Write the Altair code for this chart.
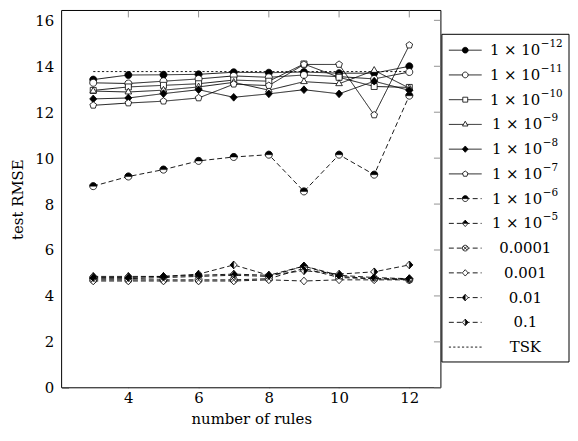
import altair as alt
import pandas as pd

FONT = "DejaVu Serif"
FS = 15

rules = [3, 4, 5, 6, 7, 8, 9, 10, 11, 12]

series_names = ["1e-12", "1e-11", "1e-10", "1e-9", "1e-8", "1e-7",
                "1e-6", "1e-5", "0.0001", "0.001", "0.01", "0.1"]
legend_base = ["1 × 10", "1 × 10", "1 × 10", "1 × 10", "1 × 10", "1 × 10", "1 × 10", "1 × 10",
               "0.0001", "0.001", "0.01", "0.1", "TSK"]
legend_exp = ["−12", "−11", "−10", "−9", "−8", "−7", "−6", "−5", "", "", "", "", ""]

s_1e12 = [13.42, 13.62, 13.63, 13.65, 13.74, 13.72, 13.75, 13.70, 13.70, 14.00]
s_1e11 = [13.28, 13.25, 13.35, 13.45, 13.58, 13.52, 13.62, 13.55, 13.45, 13.75]
s_1e10 = [12.95, 13.10, 13.17, 13.24, 13.40, 13.35, 14.10, 13.52, 13.12, 13.08]
s_1e9 = [12.92, 12.88, 12.96, 13.10, 13.30, 12.96, 13.33, 13.24, 13.82, 13.05]
s_1e8 = [12.58, 12.62, 12.81, 12.98, 12.65, 12.80, 12.98, 12.80, 13.35, 12.95]
s_1e7 = [12.30, 12.40, 12.48, 12.62, 13.22, 13.16, 14.08, 14.08, 11.88, 14.92]
s_1e6 = [8.78, 9.20, 9.50, 9.88, 10.05, 10.15, 8.55, 10.15, 9.28, 12.72]
s_1e5 = [4.75, 4.75, 4.80, 4.85, 4.90, 4.85, 5.30, 4.85, 4.75, 4.75]
s_1e4 = [4.70, 4.70, 4.70, 4.70, 4.70, 4.75, 5.20, 4.80, 4.75, 4.70]
s_1e3 = [4.65, 4.65, 4.65, 4.65, 4.65, 4.70, 4.65, 4.70, 4.70, 4.70]
s_1e2 = [4.80, 4.80, 4.85, 4.95, 5.35, 4.90, 5.30, 4.90, 4.80, 4.75]
s_1e1 = [4.85, 4.85, 4.85, 4.90, 4.95, 4.90, 5.10, 4.95, 5.05, 5.35]
tsk = [13.77, 13.77, 13.77, 13.77, 13.77, 13.77, 13.77, 13.77, 13.77, 13.77]

x_ticks = [4, 6, 8, 10, 12]
y_ticks = [0, 2, 4, 6, 8, 10, 12, 14, 16]

all_series = [s_1e12, s_1e11, s_1e10, s_1e9, s_1e8, s_1e7,
              s_1e6, s_1e5, s_1e4, s_1e3, s_1e2, s_1e1]

rows = []
for name, vals in zip(series_names, all_series):
    for xv, yv in zip(rules, vals):
        rows.append({"series": name, "rules": xv, "rmse": yv})
for xv, yv in zip(rules, tsk):
    rows.append({"series": "TSK", "rules": xv, "rmse": yv})
df = pd.DataFrame(rows)

all_names = series_names + ["TSK"]
leg_df = pd.DataFrame({"series": all_names, "base": legend_base, "exp": legend_exp,
                       "idx": list(range(len(all_names)))})
leg_df["kind"] = ["two" if len(e) == 3 else ("one" if len(e) == 2 else "plain") for e in legend_exp]

xt_df = pd.DataFrame({"t": x_ticks})
yt_df = pd.DataFrame({"t": y_ticks})
box_df = pd.DataFrame({"box": [0]})

# marker paths
CIRCLE = "M-1,0A1,1 0 1,1 1,0A1,1 0 1,1 -1,0Z"
SQUARE = "M-0.85,-0.85L0.85,-0.85L0.85,0.85L-0.85,0.85Z"
TRI = "M0,-1.1L0.95,0.55L-0.95,0.55Z"
DIAMOND = "M0,-1.1L1,0L0,1.1L-1,0Z"
PENTAGON = "M0,-1L0.951,-0.309L0.588,0.809L-0.588,0.809L-0.951,-0.309Z"
HALF_TOP_CIRCLE = "M-1,0A1,1 0 0,1 1,0Z"
HALF_TOP_DIAMOND = "M-1,0L0,-1.1L1,0Z"
HALF_LEFT_DIAMOND = "M0,-1.1L-1,0L0,1.1Z"
HALF_RIGHT_DIAMOND = "M0,-1.1L1,0L0,1.1Z"
OTIMES = "M-0.707,-0.707L0.707,0.707M-0.707,0.707L0.707,-0.707"

base_shapes = [CIRCLE, CIRCLE, SQUARE, TRI, DIAMOND, PENTAGON,
               CIRCLE, DIAMOND, CIRCLE, DIAMOND, DIAMOND, DIAMOND]
base_fills = ["black", "white", "white", "white", "black", "white",
              "white", "white", "white", "white", "white", "white"]
filled_overlays = [("1e-6", HALF_TOP_CIRCLE), ("1e-5", HALF_TOP_DIAMOND),
                   ("0.01", HALF_LEFT_DIAMOND), ("0.1", HALF_RIGHT_DIAMOND)]
line_overlays = [("0.0001", OTIMES)]

dashes = [[1, 0]] * 6 + [[5, 3]] * 6 + [[2.2, 2.2]]
widths = [0.9] * 12 + [2.3]
leg_dashes = [[1, 0]] * 6 + [[5, 5.5]] * 6 + [[2.2, 2.2]]

dash_scale = alt.Scale(domain=all_names, range=dashes)
width_scale = alt.Scale(domain=all_names, range=widths)
shape_scale = alt.Scale(domain=series_names, range=base_shapes)
fill_scale = alt.Scale(domain=series_names, range=base_fills)

XDOM = [2.1, 12.9]
YDOM = [0, 16.43]
W, H = 382, 380
TICK = 7
TICKCOL = "#777777"

# legend layout (pixels relative to plot origin)
LX0 = W + 1           # legend box left
LX1 = W + 129         # legend box right
LY0, LY1 = 24, 354    # legend box top / bottom
ROW0, ROW12 = 40, 339  # first / last legend row centre
LX_MARK = LX0 + 23.5


def xs():
    return alt.Scale(domain=XDOM, nice=False, zero=False)


def ys():
    return alt.Scale(domain=YDOM, nice=False, zero=False)


tick_common = dict(domain=False, grid=False, offset=-TICK, tickSize=TICK,
                   tickColor=TICKCOL, tickWidth=0.8)

X_main = alt.X("rules:Q", scale=xs(),
               axis=alt.Axis(orient="bottom", values=x_ticks, title="number of rules",
                             labelPadding=3, titlePadding=6, **tick_common))
Y_main = alt.Y("rmse:Q", scale=ys(),
               axis=alt.Axis(orient="left", values=y_ticks, title="test RMSE",
                             labelPadding=8, titlePadding=9, **tick_common))
X_plain = alt.X("rules:Q", scale=xs(), axis=None)
Y_plain = alt.Y("rmse:Q", scale=ys(), axis=None)
Y_leg = alt.Y("idx:Q", scale=alt.Scale(domain=[0, 12], range=[ROW0, ROW12], nice=False, zero=False),
              axis=None)

MSIZE = 50
LSIZE = 34

frame = alt.Chart(box_df).mark_rect(fill="white", stroke="black", strokeWidth=1).encode(
    x=alt.value(0), x2=alt.value(W), y=alt.value(0), y2=alt.value(H))

lines = alt.Chart(df).mark_line(color="black").encode(
    x=X_main, y=Y_main, detail="series:N",
    strokeDash=alt.StrokeDash("series:N", scale=dash_scale, legend=None),
    strokeWidth=alt.StrokeWidth("series:N", scale=width_scale, legend=None),
)

top_ticks = alt.Chart(xt_df).mark_rule(color=TICKCOL, strokeWidth=0.8).encode(
    x=alt.X("t:Q", scale=xs(), axis=None), y=alt.value(0), y2=alt.value(TICK))
right_ticks = alt.Chart(yt_df).mark_rule(color=TICKCOL, strokeWidth=0.8).encode(
    y=alt.Y("t:Q", scale=ys(), axis=None), x=alt.value(W - TICK), x2=alt.value(W))

points = alt.Chart(df).transform_filter(alt.datum.series != "TSK").mark_point(
    filled=True, stroke="black", strokeWidth=0.8, opacity=1, size=MSIZE
).encode(
    x=X_plain, y=Y_plain,
    shape=alt.Shape("series:N", scale=shape_scale, legend=None),
    fill=alt.Fill("series:N", scale=fill_scale, legend=None),
)

layers = [frame, lines, top_ticks, right_ticks, points]
for name, path in filled_overlays:
    layers.append(alt.Chart(df).transform_filter(alt.datum.series == name).mark_point(
        filled=True, fill="black", stroke="black", strokeWidth=0.5, opacity=1,
        shape=path, size=MSIZE).encode(x=X_plain, y=Y_plain))
for name, path in line_overlays:
    layers.append(alt.Chart(df).transform_filter(alt.datum.series == name).mark_point(
        filled=False, stroke="black", strokeWidth=0.8, opacity=1,
        shape=path, size=MSIZE).encode(x=X_plain, y=Y_plain))

# ---- legend ----
layers.append(alt.Chart(box_df).mark_rect(fill="white", stroke="black", strokeWidth=1).encode(
    x=alt.value(LX0), x2=alt.value(LX1), y=alt.value(LY0), y2=alt.value(LY1)))
layers.append(alt.Chart(leg_df).mark_rule(color="black").encode(
    x=alt.value(LX0 + 7), x2=alt.value(LX0 + 40), y=Y_leg,
    strokeDash=alt.StrokeDash("series:N", scale=alt.Scale(domain=all_names, range=leg_dashes), legend=None),
    strokeWidth=alt.StrokeWidth("series:N", scale=width_scale, legend=None),
))
layers.append(alt.Chart(leg_df).transform_filter(alt.datum.series != "TSK").mark_point(
    filled=True, stroke="black", strokeWidth=0.8, opacity=1, size=LSIZE
).encode(
    x=alt.value(LX_MARK), y=Y_leg,
    shape=alt.Shape("series:N", scale=shape_scale, legend=None),
    fill=alt.Fill("series:N", scale=fill_scale, legend=None),
))
for name, path in filled_overlays:
    layers.append(alt.Chart(leg_df).transform_filter(alt.datum.series == name).mark_point(
        filled=True, fill="black", stroke="black", strokeWidth=0.5, opacity=1,
        shape=path, size=LSIZE).encode(x=alt.value(LX_MARK), y=Y_leg))
for name, path in line_overlays:
    layers.append(alt.Chart(leg_df).transform_filter(alt.datum.series == name).mark_point(
        filled=False, stroke="black", strokeWidth=0.8, opacity=1,
        shape=path, size=LSIZE).encode(x=alt.value(LX_MARK), y=Y_leg))

txt = dict(font=FONT, color="black", baseline="middle")
layers.append(alt.Chart(leg_df).transform_filter(alt.datum.kind == "plain").mark_text(
    fontSize=FS, align="center", **txt).encode(x=alt.value(LX0 + 84), y=Y_leg, text="base:N"))
for kind, xb in [("two", LX0 + 99), ("one", LX0 + 101)]:
    layers.append(alt.Chart(leg_df).transform_filter(alt.datum.kind == kind).mark_text(
        fontSize=FS, align="right", **txt).encode(x=alt.value(xb), y=Y_leg, text="base:N"))
    layers.append(alt.Chart(leg_df).transform_filter(alt.datum.kind == kind).mark_text(
        fontSize=10.5, align="left", dy=-6, **txt).encode(x=alt.value(xb + 0.5), y=Y_leg, text="exp:N"))

chart = alt.layer(*layers).resolve_scale(x="independent", y="independent").properties(
    width=W, height=H,
    padding={"left": 2, "top": 0, "right": 0, "bottom": 0},
).configure_view(
    stroke=None
).configure_axis(
    labelFont=FONT, titleFont=FONT, labelFontSize=FS, titleFontSize=FS,
    titleFontWeight="normal", labelColor="black", titleColor="black",
)

chart.save("out.html", embed_options={"renderer": "svg", "actions": False})
